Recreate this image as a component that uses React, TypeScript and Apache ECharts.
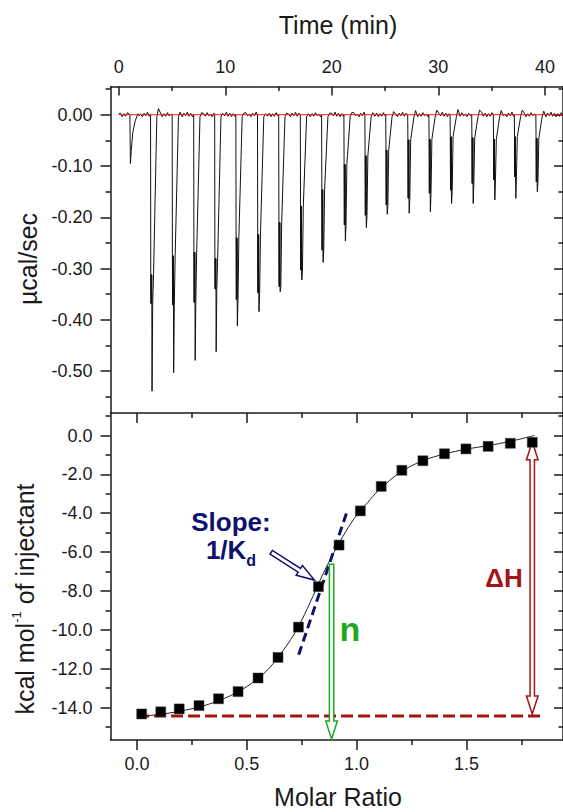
import React, { useEffect, useRef } from 'react';
import * as echarts from 'echarts';

// ---------- Top panel: raw thermogram ----------
const injTime = [1.09, 3.12, 5.15, 7.17, 9.14, 11.13, 13.16, 15.15, 17.18, 19.18, 21.27, 23.24, 25.2, 27.26, 29.25, 31.24, 33.27, 35.3, 37.27, 39.29];
const injPeak = [-0.095, -0.539, -0.503, -0.479, -0.462, -0.412, -0.384, -0.345, -0.322, -0.288, -0.246, -0.22, -0.194, -0.192, -0.189, -0.173, -0.173, -0.166, -0.163, -0.15];
const injBandTop = [-0.035, -0.312, -0.275, -0.268, -0.28, -0.24, -0.233, -0.21, -0.178, -0.146, -0.097, -0.08, -0.069, -0.049, -0.048, -0.043, -0.045, -0.048, -0.043, -0.046];
const injBandBottom = [-0.07, -0.368, -0.371, -0.366, -0.34, -0.36, -0.347, -0.335, -0.303, -0.264, -0.215, -0.196, -0.176, -0.163, -0.153, -0.147, -0.134, -0.127, -0.121, -0.131];
const injOvershoot = [0.002, 0.012, 0.005, 0.004, 0.003, 0.003, 0.002, 0.003, 0.002, 0.003, 0.004, 0.004, 0.006, 0.008, 0.009, 0.01, 0.009, 0.008, 0.009, 0.007];
const baselineWiggle = [0.003, -0.004, 0.002, -0.003, 0.004, -0.002, 0.001, -0.004, 0.003, -0.002, 0.005, -0.003];
const traceEnd = 41.7;
const baselineSpan = [0, 41.7];

const timeTicks = [0, 10, 20, 30, 40];
const timeMinorTicks = [5, 15, 25, 35];
const powerTicks = [0, -0.1, -0.2, -0.3, -0.4, -0.5];
const powerMinorTicks = [0.05, -0.05, -0.15, -0.25, -0.35, -0.45, -0.55];

// ---------- Bottom panel: binding isotherm ----------
const molarRatio = [0.021, 0.108, 0.192, 0.282, 0.371, 0.46, 0.551, 0.642, 0.735, 0.826, 0.92, 1.017, 1.112, 1.206, 1.302, 1.4, 1.498, 1.599, 1.7, 1.8];
const heatPerInj = [-14.33, -14.22, -14.07, -13.9, -13.55, -13.18, -12.48, -11.42, -9.86, -7.78, -5.64, -3.88, -2.62, -1.79, -1.3, -0.94, -0.69, -0.56, -0.4, -0.35];
const fitX = [0.02, 0.1, 0.2, 0.3, 0.4, 0.5, 0.6, 0.7, 0.75, 0.8, 0.85, 0.9, 0.95, 1.0, 1.05, 1.1, 1.2, 1.3, 1.4, 1.5, 1.6, 1.7, 1.81];
const fitY = [-14.45, -14.36, -14.18, -13.92, -13.52, -12.92, -12.0, -10.5, -9.5, -8.3, -7.05, -5.95, -4.95, -4.1, -3.45, -2.82, -1.88, -1.3, -0.95, -0.7, -0.52, -0.3, 0.0];
const slopeLineX = [0.736, 0.956];
const slopeLineY = [-11.28, -3.93];
const deltaHLevel = -14.44;
const deltaHLineX = [0.0, 1.847];
const nArrow = [0.886, -6.63, 0.886, -15.62];
const deltaHArrow = [1.8, -14.33, 1.8, -0.32];
const slopeArrow = [0.611, -6.01, 0.808, -7.44];

const molarTicks = [0, 0.5, 1.0, 1.5];
const molarMinorTicks = [0.25, 0.75, 1.25, 1.75];
const heatTicks = [0, -2, -4, -6, -8, -10, -12, -14];
const heatMinorTicks = [1, -1, -3, -5, -7, -9, -11, -13, -15];

const FONT = '"Liberation Sans", Arial, Helvetica, sans-serif';
const INK = '#1a1a1a';
const RED = '#a31515';
const NAVY = '#10106e';
const GREEN = '#1fa81f';

const TIME_MIN = -0.78, TIME_MAX = 41.7;
const POW_MIN = -0.5815, POW_MAX = 0.055;
const MR_MIN = -0.121, MR_MAX = 1.94;
const HEAT_MIN = -15.67, HEAT_MAX = 1.158;

function buildTrace(): number[][] {
  const pts: number[][] = [[0, 0.002]];
  let t = 0.16;
  let wi = 0;
  for (let k = 0; k < injTime.length; k++) {
    const T = injTime[k];
    while (t < T - 0.16) {
      pts.push([t, baselineWiggle[wi++ % baselineWiggle.length]]);
      t += 0.16;
    }
    if (k === 0) {
      pts.push([T - 0.05, 0], [T, injPeak[k]], [T + 0.08, injBandBottom[k]], [T + 0.22, injBandTop[k]], [T + 0.45, -0.012], [T + 0.7, injOvershoot[k]]);
    } else {
      const a = injBandTop[k], b = injBandBottom[k];
      pts.push(
        [T - 0.14, 0],
        [T - 0.12, a], [T - 0.1, b], [T - 0.09, a], [T - 0.07, b], [T - 0.06, a], [T - 0.04, b], [T - 0.03, a], [T - 0.02, b],
        [T, injPeak[k]],
        [T + 0.06, b], [T + 0.14, a],
        [T + 0.45, -0.004], [T + 0.6, injOvershoot[k]]
      );
    }
    t = T + 0.8;
  }
  while (t <= traceEnd) {
    pts.push([t, baselineWiggle[wi++ % baselineWiggle.length]]);
    t += 0.16;
  }
  return pts;
}

function arrowPoints(p1: number[], p2: number[], both: boolean): number[][] {
  const w = 2.2, h = 5.8, hl = 18;
  const dx = p2[0] - p1[0], dy = p2[1] - p1[1];
  const L = Math.hypot(dx, dy) || 1;
  const ux = dx / L, uy = dy / L, nx = -uy, ny = ux;
  const P = (p: number[], a: number, b: number) => [p[0] + ux * a + nx * b, p[1] + uy * a + ny * b];
  const pts: number[][] = [];
  if (both) pts.push(p1, P(p1, hl, h), P(p1, hl, w));
  else pts.push(P(p1, 0, w));
  pts.push(P(p2, -hl, w), P(p2, -hl, h), p2, P(p2, -hl, -h), P(p2, -hl, -w));
  if (both) pts.push(P(p1, hl, -w), P(p1, hl, -h));
  else pts.push(P(p1, 0, -w));
  return pts;
}

function arrowSeries(data: number[], color: string, both: boolean) {
  return {
    type: 'custom',
    xAxisIndex: 2,
    yAxisIndex: 4,
    z: 5,
    silent: true,
    data: [data],
    renderItem: (_params: any, api: any) => {
      const p1 = api.coord([api.value(0), api.value(1)]);
      const p2 = api.coord([api.value(2), api.value(3)]);
      return {
        type: 'polygon',
        shape: { points: arrowPoints(p1, p2, both) },
        style: { fill: '#ffffff', stroke: color, lineWidth: 1.5 },
      };
    },
  };
}

function axis(o: {
  grid: number; pos: string; min: number; max: number; ticks: number[]; len: number;
  inside: boolean; line: boolean; fmt?: (v: number) => string; margin?: number;
}) {
  return {
    type: 'value',
    gridIndex: o.grid,
    position: o.pos,
    min: o.min,
    max: o.max,
    splitLine: { show: false },
    axisLine: { show: o.line, onZero: false, lineStyle: { color: INK, width: 1.5 } },
    axisTick: { show: true, customValues: o.ticks, length: o.len, inside: o.inside, lineStyle: { color: INK, width: 1.5 } },
    axisLabel: o.fmt
      ? { show: true, customValues: o.ticks, formatter: o.fmt, margin: o.margin, fontSize: 18, color: INK, fontFamily: FONT }
      : { show: false },
  };
}

function App() {
  const ref = useRef<HTMLDivElement>(null);
  useEffect(() => {
    const chart = echarts.init(ref.current as HTMLDivElement, null, { renderer: 'svg' });
    const trace = buildTrace();
    const points = molarRatio.map((x, i) => [x, heatPerInj[i]]);
    const fit = fitX.map((x, i) => [x, fitY[i]]);
    const slope = slopeLineX.map((x, i) => [x, slopeLineY[i]]);
    const dHLine = deltaHLineX.map((x) => [x, deltaHLevel]);
    const base = baselineSpan.map((x) => [x, 0]);

    const option: any = {
      animation: false,
      backgroundColor: '#ffffff',
      textStyle: { fontFamily: FONT },
      grid: [
        { left: 110.5, top: 86.5, width: 453.5, height: 326.5 },
        { left: 110.5, top: 413, width: 453.5, height: 327 },
      ],
      xAxis: [
        axis({ grid: 0, pos: 'top', min: TIME_MIN, max: TIME_MAX, ticks: timeTicks, len: 9, inside: true, line: true, fmt: (v) => String(v), margin: 11 }),
        axis({ grid: 0, pos: 'top', min: TIME_MIN, max: TIME_MAX, ticks: timeMinorTicks, len: 4.5, inside: true, line: false }),
        axis({ grid: 1, pos: 'bottom', min: MR_MIN, max: MR_MAX, ticks: molarTicks, len: 10, inside: false, line: true, fmt: (v) => v.toFixed(1), margin: 15 }),
        axis({ grid: 1, pos: 'bottom', min: MR_MIN, max: MR_MAX, ticks: molarMinorTicks, len: 5, inside: false, line: false }),
        axis({ grid: 1, pos: 'top', min: MR_MIN, max: MR_MAX, ticks: molarTicks, len: 10, inside: true, line: true }),
        axis({ grid: 1, pos: 'top', min: MR_MIN, max: MR_MAX, ticks: molarMinorTicks, len: 5, inside: true, line: false }),
      ],
      yAxis: [
        axis({ grid: 0, pos: 'left', min: POW_MIN, max: POW_MAX, ticks: powerTicks, len: 10, inside: false, line: true, fmt: (v) => v.toFixed(2), margin: 18 }),
        axis({ grid: 0, pos: 'left', min: POW_MIN, max: POW_MAX, ticks: powerMinorTicks, len: 5, inside: false, line: false }),
        axis({ grid: 0, pos: 'right', min: POW_MIN, max: POW_MAX, ticks: powerTicks, len: 9, inside: true, line: true }),
        axis({ grid: 0, pos: 'right', min: POW_MIN, max: POW_MAX, ticks: powerMinorTicks, len: 4.5, inside: true, line: false }),
        axis({ grid: 1, pos: 'left', min: HEAT_MIN, max: HEAT_MAX, ticks: heatTicks, len: 10, inside: false, line: true, fmt: (v) => v.toFixed(1), margin: 18 }),
        axis({ grid: 1, pos: 'left', min: HEAT_MIN, max: HEAT_MAX, ticks: heatMinorTicks, len: 5, inside: false, line: false }),
        axis({ grid: 1, pos: 'right', min: HEAT_MIN, max: HEAT_MAX, ticks: heatTicks, len: 9, inside: true, line: true }),
        axis({ grid: 1, pos: 'right', min: HEAT_MIN, max: HEAT_MAX, ticks: heatMinorTicks, len: 4.5, inside: true, line: false }),
      ],
      series: [
        { type: 'line', xAxisIndex: 0, yAxisIndex: 0, data: trace, symbol: 'none', silent: true, z: 2, lineStyle: { color: '#111111', width: 1 } },
        { type: 'line', xAxisIndex: 0, yAxisIndex: 0, data: base, symbol: 'none', silent: true, z: 3, lineStyle: { color: '#ee1c24', width: 1 } },
        { type: 'line', xAxisIndex: 2, yAxisIndex: 4, data: fit, symbol: 'none', silent: true, z: 3, smooth: 0.3, lineStyle: { color: '#222222', width: 1 } },
        { type: 'line', xAxisIndex: 2, yAxisIndex: 4, data: dHLine, symbol: 'none', silent: true, z: 3, lineStyle: { color: RED, width: 3, type: [12, 5] } },
        { type: 'line', xAxisIndex: 2, yAxisIndex: 4, data: slope, symbol: 'none', silent: true, z: 4, lineStyle: { color: NAVY, width: 3, type: [9, 5] } },
        arrowSeries(nArrow, GREEN, false),
        arrowSeries(deltaHArrow, RED, true),
        arrowSeries(slopeArrow, NAVY, false),
        { type: 'scatter', xAxisIndex: 2, yAxisIndex: 4, data: points, symbol: 'rect', symbolSize: 10, silent: true, z: 6, itemStyle: { color: '#000000', borderColor: '#444444', borderWidth: 0.5, opacity: 1 } },
      ],
      graphic: [
        { type: 'text', x: 338, y: 24.6, style: { text: 'Time (min)', fontSize: 25, fontFamily: FONT, fill: INK, align: 'center', verticalAlign: 'middle', textAlign: 'center', textVerticalAlign: 'middle' } },
        { type: 'text', x: 338, y: 797, style: { text: 'Molar Ratio', fontSize: 25, fontFamily: FONT, fill: INK, align: 'center', verticalAlign: 'middle', textAlign: 'center', textVerticalAlign: 'middle' } },
        { type: 'text', x: 28, y: 259, rotation: Math.PI / 2, style: { text: 'µcal/sec', fontSize: 25, fontFamily: FONT, fill: INK, align: 'center', verticalAlign: 'middle', textAlign: 'center', textVerticalAlign: 'middle' } },
        {
          type: 'text', x: 25, y: 599, rotation: Math.PI / 2,
          style: {
            text: '{m|kcal mol}{s|-1}{m| of injectant}',
            align: 'center', verticalAlign: 'middle', textAlign: 'center', textVerticalAlign: 'middle',
            rich: {
              m: { fontSize: 25, lineHeight: 30, fontFamily: FONT, fill: INK, color: INK },
              s: { fontSize: 13, lineHeight: 14, fontFamily: FONT, fill: INK, color: INK, verticalAlign: 'top' },
            },
          },
        },
        { type: 'text', x: 231, y: 521.5, style: { text: 'Slope:', fontSize: 26, fontWeight: 'bold', fontFamily: FONT, fill: NAVY, align: 'center', verticalAlign: 'middle', textAlign: 'center', textVerticalAlign: 'middle' } },
        {
          type: 'text', x: 231, y: 549.5,
          style: {
            text: '{a|1/K}{b|d}',
            align: 'center', verticalAlign: 'middle', textAlign: 'center', textVerticalAlign: 'middle',
            rich: {
              a: { fontSize: 26, lineHeight: 38, fontWeight: 'bold', fontFamily: FONT, fill: NAVY, color: NAVY },
              b: { fontSize: 16, lineHeight: 16, fontWeight: 'bold', fontFamily: FONT, fill: NAVY, color: NAVY, verticalAlign: 'bottom' },
            },
          },
        },
        { type: 'text', x: 350, y: 629, style: { text: 'n', fontSize: 34, fontWeight: 'bold', fontFamily: FONT, fill: GREEN, align: 'center', verticalAlign: 'middle', textAlign: 'center', textVerticalAlign: 'middle' } },
        { type: 'text', x: 504, y: 577.5, style: { text: 'ΔH', fontSize: 26, fontWeight: 'bold', fontFamily: FONT, fill: RED, align: 'center', verticalAlign: 'middle', textAlign: 'center', textVerticalAlign: 'middle' } },
      ],
    };
    chart.setOption(option);
    return () => chart.dispose();
  }, []);
  return <div ref={ref} style={{ position: 'absolute', left: 0, top: 0, width: 563, height: 812, background: '#ffffff' }} />;
}

export default App;
